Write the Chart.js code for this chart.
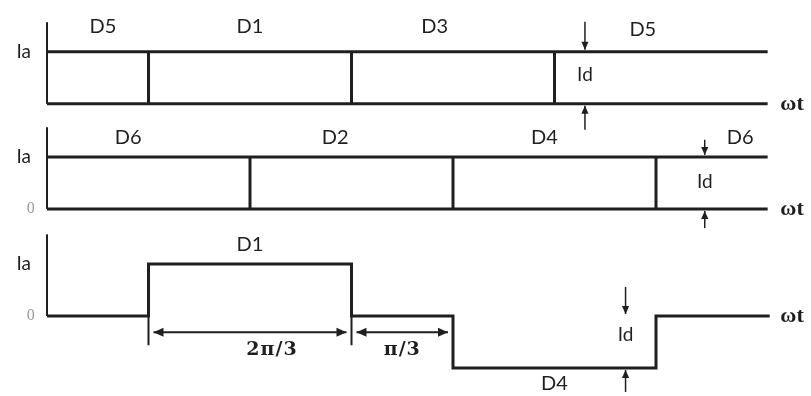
<!DOCTYPE html>
<html>
<head>
<meta charset="utf-8">
<script src="https://cdn.jsdelivr.net/npm/chart.js@4.4.0/dist/chart.umd.min.js"></script>
<style>
  html, body { margin: 0; padding: 0; background: #fff; }
  #wrap { width: 811px; height: 396px; }
</style>
</head>
<body>
<div id="wrap"><canvas id="c" width="811" height="396"></canvas></div>
<script>
// x in units of pi/3, current in units of Id
const xEnd = 7.1;
const axisTop = 1.57;

// panel 1: conduction of top group
const p1Switch = [1, 3, 5];
const p1Diodes = ['D5', 'D1', 'D3', 'D5'];
const p1DiodeX = [0.55, 2.0, 3.82, 5.87];
const p1DiodeY = [1.48, 1.48, 1.48, 1.42];

// panel 2: conduction of bottom group
const p2Switch = [2, 4, 6];
const p2Diodes = ['D6', 'D2', 'D4', 'D6'];
const p2DiodeX = [0.8, 2.84, 4.9, 6.83];
const p2DiodeY = [1.38, 1.38, 1.38, 1.38];

// panel 3: phase current ia
const iaX = [0, 1, 1, 3, 3, 4, 4, 6, 6, 7.12];
const iaY = [0, 0, 1, 1, 0, 0, -1, -1, 0, 0];
const p3Diodes = ['D1', 'D4'];
const p3DiodeX = [2.0, 5.0];
const p3DiodeY = [1.37, -1.29];

// Id markers per panel: x, label y, arrow starts/ends
const idX = [5.3, 6.48, 5.7];
const idY = [0.56, 0.52, -0.37];
const idTopFrom = [1.58, 1.33, 0.56];
const idTopTo = [1.0, 1.0, 0.0];
const idBotFrom = [-0.5, -0.37, -1.46];
const idBotTo = [0.0, 0.0, -1.0];

// interval marks under panel 3
const spanFrom = [1, 3];
const spanTo = [3, 4];
const spanText = ['2π/3', 'π/3'];

const panelBase = [4.08, 2.06, 0];
const ink = '#1f1f1f';

function seg(x1, y1, x2, y2, w) {
    return {
        data: [{ x: x1, y: y1 }, { x: x2, y: y2 }],
        borderColor: ink,
        borderWidth: w || 3,
        pointRadius: 0,
        fill: false,
        tension: 0
    };
}

const datasets = [];
[0, 1, 2].forEach(i => {
    datasets.push(seg(0, panelBase[i], 0, panelBase[i] + axisTop, 2));
});
[[p1Switch, 0], [p2Switch, 1]].forEach(([sw, i]) => {
    const b = panelBase[i];
    datasets.push(seg(0, b + 1, xEnd, b + 1));
    datasets.push(seg(0, b, xEnd, b));
    sw.forEach(s => datasets.push(seg(s, b, s, b + 1)));
});
datasets.push({
    data: iaX.map((x, k) => ({ x: x, y: iaY[k] + panelBase[2] })),
    borderColor: ink,
    borderWidth: 3,
    pointRadius: 0,
    fill: false,
    tension: 0
});
// dimension ticks
spanFrom.forEach(x => datasets.push(seg(x, 0, x, -0.56, 2)));

function arrowHead(ctx, x, y, dx, dy, size) {
    const len = Math.hypot(dx, dy);
    const ux = dx / len, uy = dy / len;
    ctx.beginPath();
    ctx.moveTo(x, y);
    ctx.lineTo(x - ux * size - uy * size * 0.45, y - uy * size + ux * size * 0.45);
    ctx.lineTo(x - ux * size + uy * size * 0.45, y - uy * size - ux * size * 0.45);
    ctx.closePath();
    ctx.fill();
}

function arrow(ctx, x1, y1, x2, y2) {
    ctx.beginPath();
    ctx.moveTo(x1, y1);
    ctx.lineTo(x2, y2);
    ctx.stroke();
    arrowHead(ctx, x2, y2, x2 - x1, y2 - y1, 8);
}

const notes = {
    id: 'notes',
    afterDatasetsDraw(chart) {
        const ctx = chart.ctx;
        const xs = chart.scales.x, ys = chart.scales.y;
        const px = v => xs.getPixelForValue(v);
        const py = v => ys.getPixelForValue(v);
        ctx.save();
        ctx.fillStyle = ink;
        ctx.strokeStyle = ink;
        ctx.textAlign = 'center';
        ctx.textBaseline = 'middle';
        ctx.font = '20px Lato, "Open Sans", sans-serif';

        const put = (names, xv, yv, b) => names.forEach((n, k) => ctx.fillText(n, px(xv[k]), py(yv[k] + b)));
        put(p1Diodes, p1DiodeX, p1DiodeY, panelBase[0]);
        put(p2Diodes, p2DiodeX, p2DiodeY, panelBase[1]);
        put(p3Diodes, p3DiodeX, p3DiodeY, panelBase[2]);

        ctx.font = '19px Lato, "Open Sans", sans-serif';
        panelBase.forEach((b, i) => {
            ctx.fillText('Ia', px(-0.23), py(b + 1.0));
            ctx.fillText('Id', px(idX[i]), py(b + idY[i]));
            ctx.lineWidth = 1.5;
            arrow(ctx, px(idX[i]), py(b + idTopFrom[i]), px(idX[i]), py(b + idTopTo[i]) - 2);
            arrow(ctx, px(idX[i]), py(b + idBotFrom[i]), px(idX[i]), py(b + idBotTo[i]) + 2);
        });

        ctx.font = 'bold 22px "Liberation Serif", serif';
        panelBase.forEach(b => ctx.fillText('ωt', px(7.34), py(b)));

        ctx.fillStyle = '#9a9a9a';
        ctx.font = '16px "Liberation Serif", serif';
        [panelBase[1], panelBase[2]].forEach(b => ctx.fillText('0', px(-0.16), py(b)));

        // interval arrows
        ctx.fillStyle = ink;
        ctx.lineWidth = 2;
        spanFrom.forEach((f, k) => {
            const y = py(-0.31);
            const a = px(f) + 5, c = px(spanTo[k]) - 5;
            ctx.beginPath();
            ctx.moveTo(a, y);
            ctx.lineTo(c, y);
            ctx.stroke();
            arrowHead(ctx, a, y, -1, 0, 10);
            arrowHead(ctx, c, y, 1, 0, 10);
            ctx.font = 'bold 19px "DejaVu Serif", serif';
            ctx.letterSpacing = '1px';
            ctx.fillText(spanText[k], (px(f) + px(spanTo[k])) / 2 + (k === 0 ? 22 : 0), py(-0.65));
            ctx.letterSpacing = '0px';
        });
        ctx.restore();
    }
};

new Chart(document.getElementById('c'), {
    type: 'line',
    data: { datasets: datasets },
    options: {
        responsive: false,
        animation: false,
        layout: { padding: 0 },
        plugins: { legend: { display: false }, tooltip: { enabled: false } },
        scales: {
            x: { type: 'linear', display: false, min: -0.463, max: 7.527 },
            y: { type: 'linear', display: false, min: -1.538, max: 6.077 }
        }
    },
    plugins: [notes]
});
</script>
</body>
</html>
